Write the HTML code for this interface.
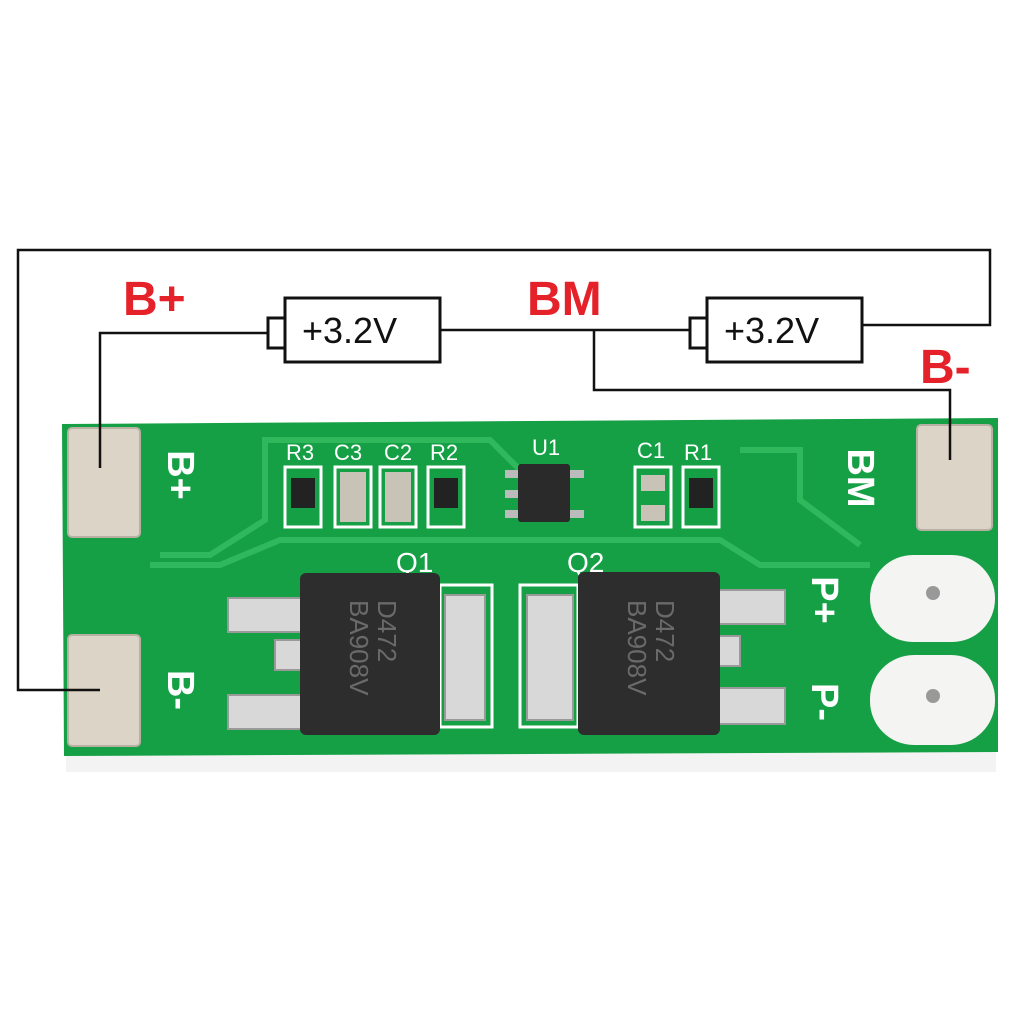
<!DOCTYPE html><html><head><style>body{margin:0;background:#fff}svg{display:block}</style></head><body>
<svg width="1024" height="1024" viewBox="0 0 1024 1024" xmlns="http://www.w3.org/2000/svg" font-family="Liberation Sans, sans-serif">
<rect width="1024" height="1024" fill="#fff"/>
<rect x="66" y="748" width="930" height="24" fill="#f3f3f3"/>
<polygon points="62,424 998,418 998,752 64,756" fill="#15a045"/>
<g fill="none" stroke="#2fb85c" stroke-width="6">
<path d="M160,555 L210,555 L265,520 L265,440 L490,440 L520,470"/>
<path d="M150,565 L220,565 L280,540 L720,540 L760,565 L870,565"/>
<path d="M740,450 L800,450 L800,500 L860,545"/>
</g>
<rect x="68" y="428" width="72" height="109" rx="4" fill="#dcd4c6" stroke="#b8b0a2" stroke-width="2"/>
<rect x="68" y="635" width="72" height="111" rx="4" fill="#dcd4c6" stroke="#b8b0a2" stroke-width="2"/>
<rect x="917" y="425" width="75" height="105" rx="4" fill="#dcd4c6" stroke="#b8b0a2" stroke-width="2"/>
<rect x="870" y="555" width="125" height="87" rx="43" fill="#f4f4f2"/>
<rect x="870" y="655" width="125" height="90" rx="44" fill="#f4f4f2"/>
<circle cx="933" cy="593" r="7" fill="#999"/>
<circle cx="933" cy="696" r="7" fill="#999"/>
<g fill="#fff" font-weight="bold" font-size="38">
<text transform="translate(168,475) rotate(90)" text-anchor="middle">B+</text>
<text transform="translate(168,690) rotate(90)" text-anchor="middle">B-</text>
<text transform="translate(848,478) rotate(90)" text-anchor="middle">BM</text>
<text transform="translate(812,600) rotate(90)" text-anchor="middle">P+</text>
<text transform="translate(812,702) rotate(90)" text-anchor="middle">P-</text>
</g>
<g fill="#fff" font-size="22">
<text x="286" y="460">R3</text><text x="334" y="460">C3</text><text x="384" y="460">C2</text><text x="430" y="460">R2</text>
<text x="532" y="455">U1</text><text x="637" y="458">C1</text><text x="684" y="460">R1</text>
<text x="396" y="572" font-size="28">Q1</text><text x="567" y="572" font-size="28">Q2</text>
</g>
<g stroke="#fff" stroke-width="3" fill="none">
<rect x="285" y="467" width="36" height="60"/><rect x="335" y="467" width="36" height="60"/>
<rect x="380" y="467" width="36" height="60"/><rect x="428" y="467" width="36" height="60"/>
<rect x="635" y="467" width="36" height="60"/><rect x="683" y="467" width="36" height="60"/>
<rect x="440" y="585" width="52" height="142"/><rect x="520" y="585" width="58" height="142"/>
</g>
<g fill="#c9c2b6">
<rect x="340" y="472" width="26" height="50"/><rect x="385" y="472" width="26" height="50"/>
<rect x="641" y="475" width="24" height="16"/><rect x="641" y="505" width="24" height="16"/>
</g>
<g fill="#222"><rect x="291" y="478" width="24" height="30"/><rect x="434" y="478" width="24" height="30"/><rect x="689" y="478" width="24" height="30"/></g>
<g fill="#bbb"><rect x="505" y="470" width="16" height="8"/><rect x="505" y="490" width="16" height="8"/><rect x="505" y="510" width="16" height="8"/>
<rect x="568" y="470" width="16" height="8"/><rect x="568" y="510" width="16" height="8"/></g>
<rect x="518" y="464" width="52" height="58" rx="3" fill="#2a2a2a"/>
<g fill="#d8d8d8" stroke="#999" stroke-width="2">
<rect x="228" y="598" width="75" height="34"/><rect x="228" y="695" width="75" height="34"/><rect x="275" y="640" width="28" height="30"/>
<rect x="715" y="590" width="70" height="34"/><rect x="715" y="688" width="70" height="36"/><rect x="715" y="636" width="25" height="30"/>
<rect x="445" y="595" width="40" height="125"/><rect x="527" y="595" width="46" height="125"/>
</g>
<rect x="300" y="573" width="140" height="162" rx="6" fill="#2d2d2d"/>
<rect x="578" y="572" width="142" height="163" rx="6" fill="#2d2d2d"/>
<g fill="#6a6a6a" font-size="26">
<text transform="translate(378,600) rotate(90)">D472</text><text transform="translate(350,600) rotate(90)">BA908V</text>
<text transform="translate(656,600) rotate(90)">D472</text><text transform="translate(628,600) rotate(90)">BA908V</text>
</g>
<g fill="none" stroke="#111" stroke-width="2.5">
<path d="M100,690 L18,690 L18,250 L990,250 L990,325 L862,325"/>
<path d="M100,468 L100,333 L268,333"/>
<path d="M440,330 L690,330"/>
<path d="M594,330 L594,390 L950,390 L950,460"/>
</g>
<g fill="#fff" stroke="#111" stroke-width="3">
<rect x="268" y="318" width="17" height="30"/><rect x="285" y="298" width="155" height="64"/>
<rect x="690" y="318" width="17" height="30"/><rect x="707" y="298" width="155" height="64"/>
</g>
<g font-size="36" fill="#111"><text x="302" y="343">+3.2V</text><text x="724" y="343">+3.2V</text></g>
<g font-size="48" fill="#e5222a" font-weight="bold">
<text x="123" y="315">B+</text><text x="527" y="315">BM</text><text x="920" y="383">B-</text>
</g>
</svg></body></html>
